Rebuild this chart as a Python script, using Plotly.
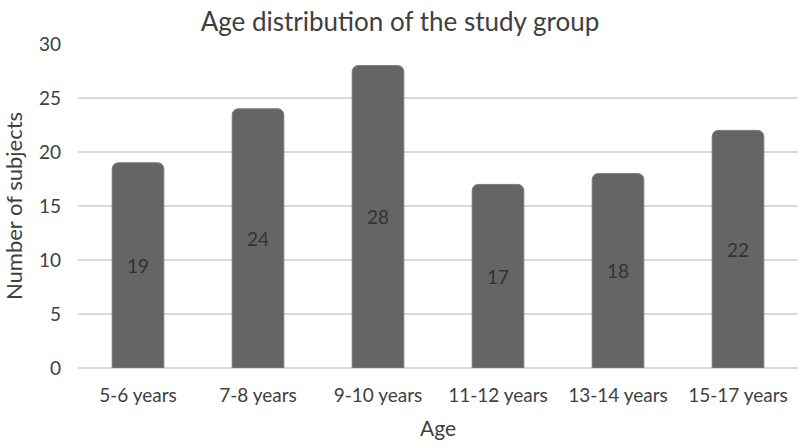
import plotly.graph_objects as go

categories = ["5-6 years", "7-8 years", "9-10 years", "11-12 years", "13-14 years", "15-17 years"]
subjects = [19, 24, 28, 17, 18, 22]
y_ticks = [0, 5, 10, 15, 20, 25, 30]

font_family = "Lato, Open Sans, sans-serif"
text_color = "#404040"

fig = go.Figure(
    go.Bar(
        x=categories,
        y=subjects,
        text=[str(v) for v in subjects],
        textposition="inside",
        insidetextanchor="middle",
        textfont=dict(family=font_family, size=19, color="#333333"),
        marker=dict(color="#656565", line=dict(color="#7a7a7a", width=1), cornerradius=6),
        width=0.43,
    )
)

fig.update_layout(
    width=800,
    height=448,
    margin=dict(l=78, r=2, t=44, b=80),
    paper_bgcolor="white",
    plot_bgcolor="white",
    showlegend=False,
    title=dict(
        text="Age distribution of the study group",
        x=0.5,
        xanchor="center",
        y=0.952,
        yanchor="middle",
        font=dict(family=font_family, size=26, color=text_color),
    ),
    font=dict(family=font_family, color=text_color),
    xaxis=dict(
        title=dict(text="Age", font=dict(size=21, color=text_color), standoff=16),
        tickfont=dict(size=19, color=text_color),
        showline=False,
        ticks="",
        showgrid=False,
        automargin=False,
        ticklabelstandoff=14,
    ),
    yaxis=dict(
        title=dict(text="Number of subjects", font=dict(size=22, color=text_color), standoff=12),
        range=[0, 30],
        tickvals=y_ticks,
        tickfont=dict(size=19, color=text_color),
        showgrid=True,
        gridcolor="#d9d9d9",
        gridwidth=1.5,
        zeroline=True,
        zerolinecolor="#d9d9d9",
        zerolinewidth=1.5,
        showline=False,
        ticks="",
        ticklabelstandoff=16,
        automargin=False,
    ),
)

fig.write_html(
    "out.html",
    config={"displayModeBar": False},
    post_script="document.body.style.margin='0';document.body.style.overflow='hidden';",
)
